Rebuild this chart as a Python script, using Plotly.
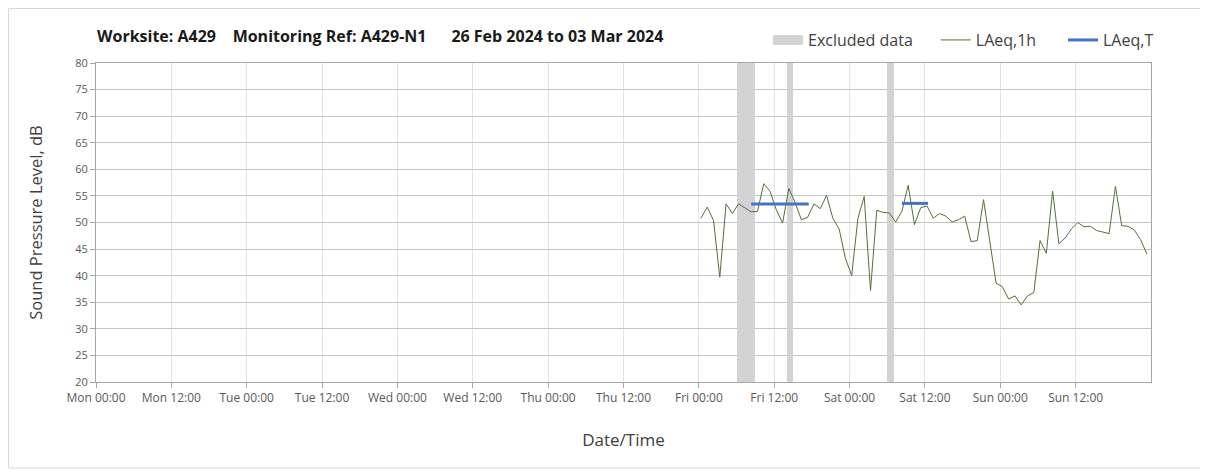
import plotly.graph_objects as go
import pandas as pd

# ---- data ----
series_start = "2024-03-01 00:20"
laeq_1h = [50.8, 52.9, 50.4, 39.7, 53.5, 51.7, 53.5, 52.7, 52.0, 52.1, 57.3, 55.9, 52.4, 49.9, 56.4, 53.7, 50.5, 51.0,
           53.5, 52.6, 55.1, 50.8, 48.8, 43.3, 40.0, 50.8, 54.9, 37.2, 52.3, 51.9, 51.8, 50.1, 52.1, 57.0, 49.6, 52.8,
           53.1, 50.8, 51.7, 51.2, 50.1, 50.5, 51.2, 46.4, 46.6, 54.3, 46.5, 38.6, 37.9, 35.6, 36.2, 34.5, 36.2, 36.8,
           46.6, 44.2, 55.9, 46.0, 47.1, 48.8, 50.0, 49.2, 49.3, 48.5, 48.2, 47.9, 56.8, 49.4, 49.3, 48.6, 46.8, 44.1]

laeqT_starts = ["2024-03-01 08:20", "2024-03-02 08:20"]
laeqT_ends = ["2024-03-01 17:30", "2024-03-02 12:30"]
laeqT_values = [53.5, 53.6]

excl_starts = ["2024-03-01 06:00", "2024-03-01 14:00", "2024-03-02 06:00"]
excl_ends = ["2024-03-01 09:00", "2024-03-01 15:00", "2024-03-02 07:00"]

tick_vals = ["2024-02-26 00:00", "2024-02-26 12:00", "2024-02-27 00:00", "2024-02-27 12:00",
             "2024-02-28 00:00", "2024-02-28 12:00", "2024-02-29 00:00", "2024-02-29 12:00",
             "2024-03-01 00:00", "2024-03-01 12:00", "2024-03-02 00:00", "2024-03-02 12:00",
             "2024-03-03 00:00", "2024-03-03 12:00"]
tick_text = ["Mon 00:00", "Mon 12:00", "Tue 00:00", "Tue 12:00", "Wed 00:00", "Wed 12:00",
             "Thu 00:00", "Thu 12:00", "Fri 00:00", "Fri 12:00", "Sat 00:00", "Sat 12:00",
             "Sun 00:00", "Sun 12:00"]
x_range = ["2024-02-26 00:00", "2024-03-04 00:00"]
y_min, y_max = 20, 80

title_text = "Worksite: A429&nbsp;&nbsp;&nbsp;&nbsp;Monitoring Ref: A429-N1&nbsp;&nbsp;&nbsp;&nbsp;&nbsp;&nbsp;26 Feb 2024 to 03 Mar 2024"

# ---- derived ----
times = pd.date_range(series_start, periods=len(laeq_1h), freq="h")
es = pd.to_datetime(excl_starts)
ee = pd.to_datetime(excl_ends)
excl_centers = es + (ee - es) / 2
excl_widths = [(e - s).total_seconds() * 1000 for s, e in zip(es, ee)]

tx, ty = [], []
for s, e, v in zip(laeqT_starts, laeqT_ends, laeqT_values):
    tx += [s, e, None]
    ty += [v, v, None]

FONT = "Open Sans"
GREY_BAND = "#d3d3d3"
GREEN = "#54703a"
BLUE = "#4472c4"

fig = go.Figure()
fig.add_trace(go.Bar(
    x=excl_centers, y=[y_max - y_min] * len(excl_centers), base=y_min, width=excl_widths,
    marker=dict(color=GREY_BAND, line=dict(width=0)), name="Excluded data",
    hoverinfo="skip", showlegend=False))
# legend-only entry for the excluded bands
fig.add_trace(go.Scatter(x=[None], y=[None], mode="lines", name="Excluded data",
                         line=dict(color=GREY_BAND, width=10), legend="legend"))
fig.add_trace(go.Scatter(
    x=times, y=laeq_1h, mode="lines", name="LAeq,1h",
    line=dict(color=GREEN, width=1), legend="legend2"))
fig.add_trace(go.Scatter(
    x=tx, y=ty, mode="lines", name="LAeq,T",
    line=dict(color=BLUE, width=3), legend="legend3"))

leg_common = dict(orientation="h", y=1.072, yanchor="middle", xanchor="left",
                  font=dict(size=16, color="#404040"), bgcolor="rgba(0,0,0,0)")

fig.update_layout(
    width=1200, height=464,
    margin=dict(l=88, r=57, t=55, b=90),
    paper_bgcolor="white", plot_bgcolor="white",
    font=dict(family=FONT, color="#404040"),
    showlegend=True,
    legend=dict(x=0.637, **leg_common),
    legend2=dict(x=0.796, **leg_common),
    legend3=dict(x=0.9166, **leg_common),
    annotations=[dict(text="<b>" + title_text + "</b>", xref="paper", yref="paper",
                      x=-0.001, y=1.085, xanchor="left", yanchor="middle", showarrow=False,
                      font=dict(family=FONT, size=16, color="#1a1a1a"))],
    shapes=[dict(type="rect", xref="paper", yref="paper",
                 x0=-0.0829, x1=1.0493, y0=-0.2696, y1=1.1708,
                 line=dict(color="#d9d9d9", width=1), fillcolor="rgba(0,0,0,0)", layer="below")],
    bargap=0,
)
fig.update_xaxes(
    type="date", range=x_range, tickvals=tick_vals, ticktext=tick_text,
    showgrid=True, gridcolor="#e2e2e2", gridwidth=1,
    showline=True, linecolor="#a6a6a6", linewidth=1, mirror=True,
    ticks="outside", ticklen=5, tickcolor="#a6a6a6",
    tickfont=dict(size=12, color="#595959"),
    title=dict(text="Date/Time", font=dict(size=17, color="#404040"), standoff=28),
    zeroline=False,
)
fig.update_yaxes(
    range=[y_min, y_max], dtick=5,
    showgrid=True, gridcolor="#c4c4c4", gridwidth=1,
    showline=True, linecolor="#a6a6a6", linewidth=1, mirror=True,
    ticks="outside", ticklen=5, tickcolor="#a6a6a6",
    tickfont=dict(size=11, color="#595959"),
    title=dict(text="Sound Pressure Level, dB", font=dict(size=16.5, color="#404040"), standoff=28),
    zeroline=False,
)

fig.write_html("out.html")
